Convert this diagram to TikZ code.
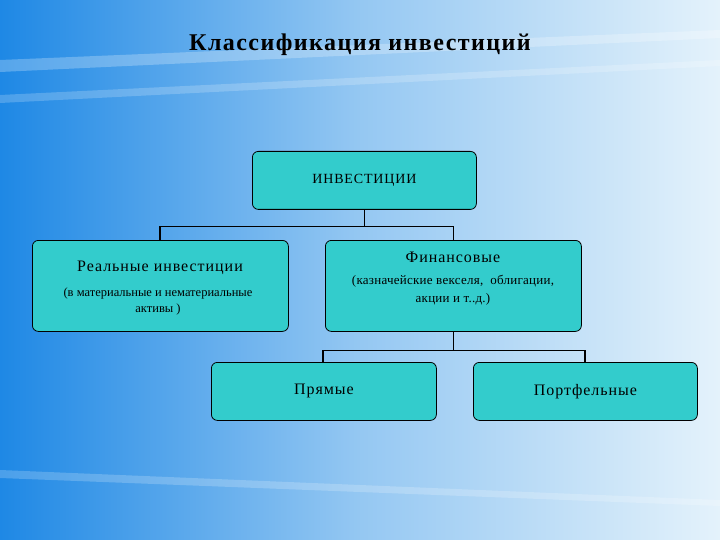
\documentclass[tikz,border=0pt]{standalone}
\usepackage{fontspec}
\setmainfont{Liberation Serif}
\newfontfamily\wide[LetterSpace=6]{Liberation Serif}
\newfontfamily\widet[LetterSpace=6]{Liberation Serif}
\newfontfamily\wides[LetterSpace=2]{Liberation Serif}
\begin{document}
\begin{tikzpicture}[x=1pt,y=-1pt,
  box/.style={draw=black,line width=0.8pt,fill=boxc,rounded corners=6pt,inner sep=0pt,anchor=north west},
  lnk/.style={draw=black,line width=1.2pt}]
\definecolor{boxc}{HTML}{33CCCC}
\definecolor{bgl}{HTML}{1E88E5}
\definecolor{bgr}{HTML}{E4F2FB}
\useasboundingbox (0,0) rectangle (720,540);
\shade[left color=bgl,right color=bgr,middle color=bgl!40!bgr] (0,0) rectangle (720,540);
\fill[white,opacity=0.25] (0,60) -- (720,30) -- (720,38) -- (0,72) -- cycle;
\fill[white,opacity=0.2] (0,95) -- (720,60) -- (720,66) -- (0,103) -- cycle;
\fill[white,opacity=0.2] (0,470) -- (720,500) -- (720,506) -- (0,478) -- cycle;
\node[font=\widet\bfseries\fontsize{24}{28}\selectfont] (title) at (360,45) {Классификация инвестиций};
\node[box,minimum width=224pt,minimum height=58pt] (inv) at (252,151) {};
\node[font=\wide\fontsize{14}{16}\selectfont] at (inv.center) {ИНВЕСТИЦИИ};
\node[box,minimum width=256pt,minimum height=91pt] (real) at (32,240) {};
\node[font=\wide\fontsize{16}{18}\selectfont] at (160,268) {Реальные инвестиции};
\node[font=\fontsize{12.5}{16}\selectfont,align=center] at (158,301) {(в материальные и нематериальные\\активы )};
\node[box,minimum width=256pt,minimum height=91pt] (fin) at (325,240) {};
\node[font=\wide\fontsize{16}{18}\selectfont] at (453,257) {Финансовые};
\node[font=\wides\fontsize{13}{18}\selectfont,align=center] at (453,290) {(казначейские векселя,\ \ облигации,\\акции и т..д.)};
\node[box,minimum width=225pt,minimum height=58pt] (pr) at (211,362) {};
\node[font=\wide\fontsize{16}{18}\selectfont] at (pr.center) {Прямые};
\node[box,minimum width=224pt,minimum height=58pt] (pf) at (473,362) {};
\node[font=\wide\fontsize{16}{18}\selectfont] at (pf.center) {Портфельные};
\draw[lnk] (inv.south) -- ++(0,17) -| (real.north -| 160,0);
\draw[lnk] (inv.south) ++(0,17) -| (fin.north);
\draw[lnk] (fin.south) -- ++(0,19) -| (pr.north -| 323,0);
\draw[lnk] (fin.south) ++(0,19) -| (pf.north -| 585,0);
\end{tikzpicture}
\end{document}
